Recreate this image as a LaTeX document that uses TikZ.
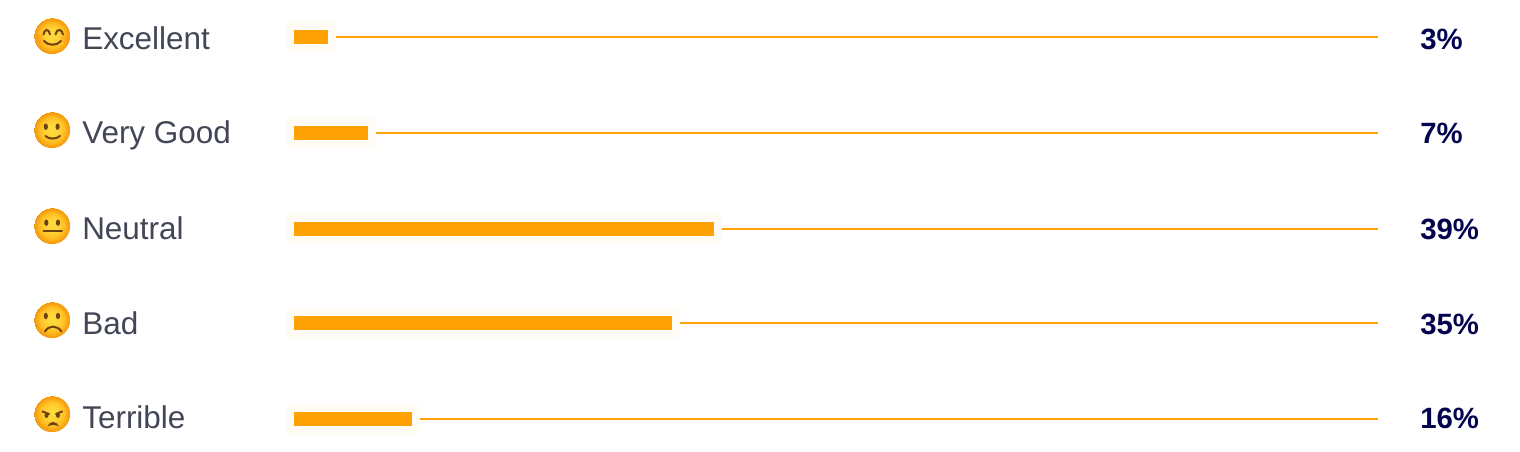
\documentclass[tikz,border=0pt]{standalone}
\usepackage{fontspec}
\setmainfont{Liberation Sans}
\definecolor{barorange}{HTML}{FFA005}
\definecolor{halo}{HTML}{FFFBF5}
\definecolor{labelgrey}{HTML}{434656}
\definecolor{valuenavy}{HTML}{03034F}
\definecolor{facebrown}{HTML}{6E430F}
\definecolor{faceblush}{HTML}{FF8A2C}
\definecolor{faceA}{HTML}{FFDC40}
\definecolor{faceB}{HTML}{FFD236}
\definecolor{faceC}{HTML}{FFBE24}
\definecolor{faceD}{HTML}{F9A210}
\definecolor{faceE}{HTML}{EE9A18}
\pgfdeclareradialshading{facefill}{\pgfpoint{0bp}{2bp}}{%
  color(0bp)=(faceA);
  color(10bp)=(faceB);
  color(17bp)=(faceC);
  color(22bp)=(faceD);
  color(25bp)=(faceE)}
\tikzset{
  x=0.75pt,y=-0.75pt,
  face/.style={circle,minimum size=27.2pt,inner sep=0pt,shading=facefill,draw=none},
  feature/.style={draw=facebrown,line width=1.5pt,line cap=round},
  eye/.style={fill=facebrown,draw=none},
  barfill/.style={fill=barorange,draw=none},
  leader/.style={draw=barorange,line width=1.5pt},
  rowlabel/.style={anchor=base west,text=labelgrey,font=\fontsize{23.6}{26}\selectfont,inner sep=0pt},
  rowvalue/.style={anchor=base west,text=valuenavy,font=\fontsize{22}{26}\selectfont\bfseries,inner sep=0pt},
}
\begin{document}
\begin{tikzpicture}
\useasboundingbox (0,0) rectangle (1520,452);
\fill[white] (0,0) rectangle (1520,452);
% rows: bar end, bar centre y, text baseline, label, value
\foreach \nm/\barend/\cy/\bl/\lab/\val in {a/328/37/50/Excellent/3\%, b/368/133/144/Very Good/7\%, c/714/229/240/Neutral/39\%, d/672/323/334/Bad/35\%, e/412/419/428/Terrible/16\%}{
  \fill[halo] (286,\cy-15) rectangle (\barend+8,\cy+15);
  \node[barfill,inner sep=0pt,minimum height=10.5pt,minimum width={(\barend-294)*0.75pt},anchor=west] (bar\nm) at (294,\cy) {};
  \coordinate (lineend\nm) at (1378,\cy);
  \coordinate (linestart\nm) at (\barend+8,\cy);
  \draw[leader] (linestart\nm) -- (lineend\nm);
  \node[rowlabel] (label\nm) at (82,\bl) {\lab};
  \node[rowvalue] (value\nm) at (1420,\bl) {\val};
}
% faces
\node[face] (facea) at (52,36) {};
\node[face] (faceb) at (52,130) {};
\node[face] (facec) at (52,226) {};
\node[face] (faced) at (52,320) {};
\node[face] (facee) at (52,414) {};
% Excellent
\fill[faceblush,opacity=.3] (40,39) circle (4);
\fill[faceblush,opacity=.3] (64.5,39) circle (4);
\draw[feature] (43.5,34.5) .. controls (44.5,28.5) and (49,28.5) .. (50,34.5);
\draw[feature] (55.5,34.5) .. controls (56.5,28.5) and (62,28.5) .. (63,34.5);
\draw[feature] (44,41) .. controls (48,46) and (57,46) .. (61,41);
% Very Good
\fill[eye] (45.8,126.7) ellipse (2.1 and 3.2);
\fill[eye] (57.6,126.7) ellipse (2.1 and 3.2);
\draw[feature] (45.5,136) .. controls (49,139.5) and (56,139.5) .. (60,136);
% Neutral
\fill[eye] (46.3,222.7) ellipse (2.1 and 3.2);
\fill[eye] (58,222.7) ellipse (2.1 and 3.2);
\draw[feature] (43.5,231.5) -- (62,231.5);
% Bad
\fill[eye] (45.8,316) ellipse (2.1 and 3.2);
\fill[eye] (58,316) ellipse (2.1 and 3.2);
\draw[feature] (45,331.5) .. controls (49,325) and (57,325) .. (61.5,331.5);
% Terrible
\draw[feature] (42.5,411.5) -- (49,414);
\draw[feature] (62,411.5) -- (56,414);
\fill[eye] (46.5,415.5) ellipse (2 and 2.4);
\fill[eye] (58,415.5) ellipse (2 and 2.4);
\fill[facebrown] (47.5,426.5) .. controls (49,420.5) and (57,420.5) .. (59,426.5) .. controls (56,424.5) and (50.5,424.5) .. (47.5,426.5);
\end{tikzpicture}
\end{document}
